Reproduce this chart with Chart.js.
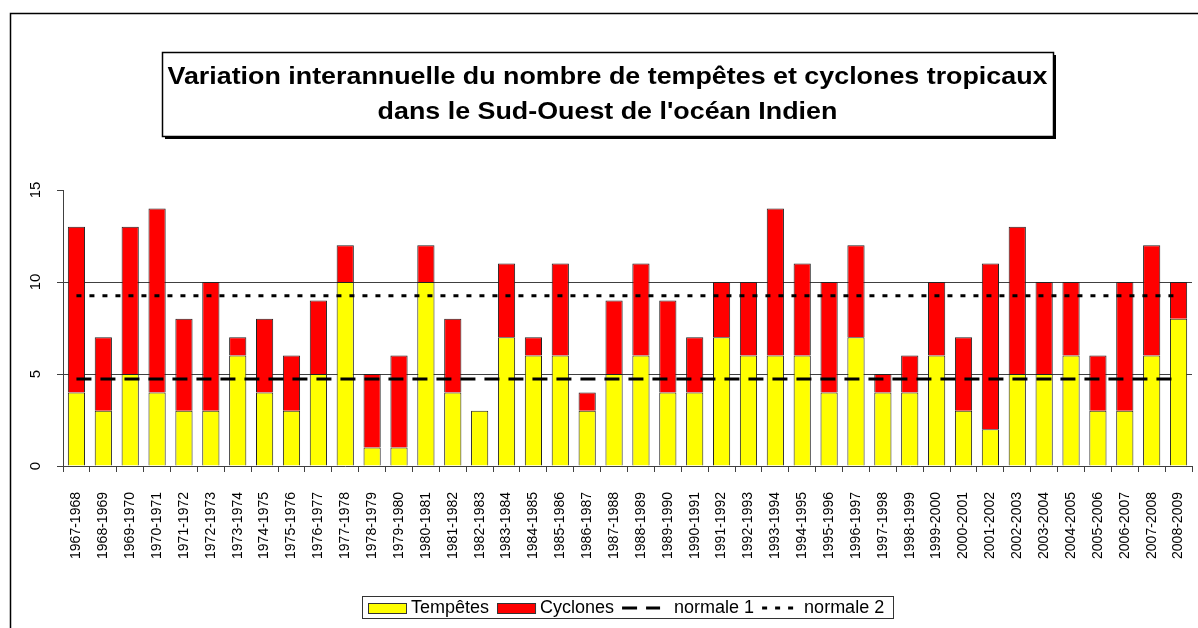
<!DOCTYPE html>
<html lang="fr">
<head>
<meta charset="utf-8">
<title>Tempêtes et cyclones tropicaux – Sud-Ouest de l'océan Indien</title>
<script src="https://cdn.jsdelivr.net/npm/chart.js@4/dist/chart.umd.min.js"></script>
<style>
  html, body { margin: 0; padding: 0; background: #fff; }
  #wrap { width: 1198px; height: 628px; position: relative; }
</style>
</head>
<body>
<div id="wrap"><canvas id="chartCyclones"></canvas></div>
<script>
// ── Saisons cycloniques 1967-1968 → 2008-2009 ─────────────
const saisons = [
  "1967-1968", "1968-1969", "1969-1970", "1970-1971", "1971-1972", "1972-1973",
  "1973-1974", "1974-1975", "1975-1976", "1976-1977", "1977-1978", "1978-1979",
  "1979-1980", "1980-1981", "1981-1982", "1982-1983", "1983-1984", "1984-1985",
  "1985-1986", "1986-1987", "1987-1988", "1988-1989", "1989-1990", "1990-1991",
  "1991-1992", "1992-1993", "1993-1994", "1994-1995", "1995-1996", "1996-1997",
  "1997-1998", "1998-1999", "1999-2000", "2000-2001", "2001-2002", "2002-2003",
  "2003-2004", "2004-2005", "2005-2006", "2006-2007", "2007-2008", "2008-2009",
];

// tempêtes tropicales (partie jaune)
const tempetes = [
  4, 3, 5, 4, 3, 3, 6, 4, 3, 5, 10, 1, 1, 10, 4, 3, 7, 6, 6, 3, 5,
  6, 4, 4, 7, 6, 6, 6, 4, 7, 4, 4, 6, 3, 2, 5, 5, 6, 3, 3, 6, 8,
];

// cyclones tropicaux (partie rouge, empilée au-dessus)
const cyclones = [
  9, 4, 8, 10, 5, 7, 1, 4, 3, 4, 2, 4, 5, 2, 4, 0, 4, 1, 5, 1, 4,
  5, 5, 3, 3, 4, 8, 5, 6, 5, 1, 2, 4, 4, 9, 8, 5, 4, 3, 7, 6, 2,
];

const normale1 = 4.73;  // moyenne des tempêtes
const normale2 = 9.25;  // moyenne tempêtes + cyclones

const yTicks = [0, 5, 10, 15];
const gridValues = [5, 10];
const legendOrder = ["Tempêtes", "Cyclones", "normale 1", "normale 2"];

const titleLines = [
  "Variation interannuelle du nombre de tempêtes et cyclones tropicaux",
  "dans le Sud-Ouest de l'océan Indien",
];

const FONT = "'Liberation Sans', Arial, sans-serif";
const AXIS_GREY = "#404040";

// Cadre général + encadré du titre
const framePlugin = {
  id: "frame",
  beforeDraw(chart) {
    const { ctx, width, height } = chart;
    ctx.save();
    ctx.fillStyle = "#fff";
    ctx.fillRect(0, 0, width, height);

    ctx.strokeStyle = "#000";
    ctx.lineWidth = 1.5;
    ctx.beginPath();
    ctx.moveTo(10.5, height);
    ctx.lineTo(10.5, 13.5);
    ctx.lineTo(width, 13.5);
    ctx.stroke();

    // title box with a drop shadow
    const bx = 162, by = 52, bw = 891, bh = 84;
    ctx.fillStyle = "#000";
    ctx.fillRect(bx + 3, by + 3, bw, bh);
    ctx.fillStyle = "#fff";
    ctx.fillRect(bx, by, bw, bh);
    ctx.lineWidth = 1.5;
    ctx.strokeRect(bx + 0.5, by + 0.5, bw, bh);

    // the title face is wide and heavy: stretch line 1 to 880px
    ctx.fillStyle = "#000";
    ctx.font = `bold 24px ${FONT}`;
    ctx.textAlign = "center";
    ctx.textBaseline = "middle";
    const sx = 880 / ctx.measureText(titleLines[0]).width;
    const cx = bx + bw / 2;
    [77, 112].forEach((ty, i) => {
      ctx.save();
      ctx.translate(cx, ty);
      ctx.scale(sx, 1);
      ctx.fillText(titleLines[i], 0, 0);
      ctx.restore();
    });
    ctx.restore();
  },
};

// Étiquettes verticales de l'axe Y + légende encadrée
const overlayPlugin = {
  id: "overlay",
  afterDraw(chart) {
    const { ctx } = chart;
    const y = chart.scales.y;
    ctx.save();

    ctx.fillStyle = "#000";
    ctx.font = `15px ${FONT}`;
    ctx.textAlign = "center";
    ctx.textBaseline = "middle";
    yTicks.forEach((v) => {
      ctx.save();
      ctx.translate(36, y.getPixelForValue(v));
      ctx.rotate(-Math.PI / 2);
      ctx.fillText(String(v), 0, 0);
      ctx.restore();
    });

    // legend
    const lx = 362, ly = 596, lw = 531, lh = 22;
    ctx.strokeStyle = "#333";
    ctx.lineWidth = 1;
    ctx.strokeRect(lx + 0.5, ly + 0.5, lw, lh);

    ctx.font = `18px ${FONT}`;
    ctx.textAlign = "left";
    const midY = ly + lh / 2 + 1;
    let x = lx + 6;
    legendOrder.forEach((name) => {
      const ds = chart.data.datasets.find((d) => d.label === name);
      if (ds.type === "line") {
        ctx.strokeStyle = ds.borderColor;
        ctx.lineWidth = 3;
        ctx.setLineDash(ds.borderDash);
        ctx.beginPath();
        ctx.moveTo(x, midY);
        ctx.lineTo(x + ds.legendWidth, midY);
        ctx.stroke();
        ctx.setLineDash([]);
        x += ds.legendWidth + ds.legendGap;
      } else {
        ctx.fillStyle = ds.backgroundColor;
        ctx.fillRect(x, midY - 5, 38, 10);
        ctx.strokeStyle = "#333";
        ctx.lineWidth = 1;
        ctx.strokeRect(x + 0.5, midY - 5 + 0.5, 38, 10);
        x += 43;
      }
      ctx.fillStyle = "#000";
      ctx.fillText(ds.label, x, midY);
      x += ctx.measureText(ds.label).width + 8;
    });

    ctx.restore();
  },
};

new Chart(document.getElementById("chartCyclones"), {
  data: {
    labels: saisons,
    datasets: [
      {
        type: "line",
        label: "normale 1",
        data: saisons.map(() => normale1),
        borderColor: "#000",
        borderWidth: 3,
        borderDash: [15, 9],
        pointRadius: 0,
        stack: "n1",
        order: 0,
        legendWidth: 38,
        legendGap: 14,
      },
      {
        type: "line",
        label: "normale 2",
        data: saisons.map(() => normale2),
        borderColor: "#000",
        borderWidth: 3,
        borderDash: [5, 8],
        pointRadius: 0,
        stack: "n2",
        order: 0,
        legendWidth: 36,
        legendGap: 6,
      },
      {
        type: "bar",
        label: "Tempêtes",
        data: tempetes,
        backgroundColor: "#ffff00",
        borderColor: "#222",
        borderWidth: 1,
        stack: "obs",
        order: 1,
      },
      {
        type: "bar",
        label: "Cyclones",
        data: cyclones,
        backgroundColor: "#ff0000",
        borderColor: "#222",
        borderWidth: 1,
        stack: "obs",
        order: 1,
      },
    ],
  },
  options: {
    responsive: true,
    maintainAspectRatio: false,
    animation: false,
    layout: { padding: { left: 10, right: 6, top: 190, bottom: 0 } },
    datasets: {
      bar: { barPercentage: 0.64, categoryPercentage: 1 },
    },
    plugins: {
      legend: { display: false },
      title: { display: false },
      tooltip: { enabled: false },
    },
    scales: {
      x: {
        stacked: true,
        offset: true,
        border: { color: AXIS_GREY, width: 1 },
        grid: {
          offset: true,
          drawOnChartArea: false,
          tickLength: 6,
          tickColor: AXIS_GREY,
        },
        ticks: {
          autoSkip: false,
          minRotation: 90,
          maxRotation: 90,
          padding: 20,
          color: "#000",
          font: { family: FONT, size: 14 },
        },
        afterFit: (s) => {
          s.height = 162;
          s.paddingLeft = 0;
          s.paddingRight = 0;
        },
      },
      y: {
        stacked: true,
        min: 0,
        max: 15,
        border: { color: AXIS_GREY, width: 1 },
        grid: {
          color: (c) => (gridValues.includes(c.tick && c.tick.value) ? AXIS_GREY : "rgba(0,0,0,0)"),
          tickColor: AXIS_GREY,
          tickLength: 6,
        },
        ticks: { display: false, stepSize: 5 },
        afterFit: (s) => {
          s.width = 53;
        },
      },
    },
  },
  plugins: [framePlugin, overlayPlugin],
});
</script>
</body>
</html>
